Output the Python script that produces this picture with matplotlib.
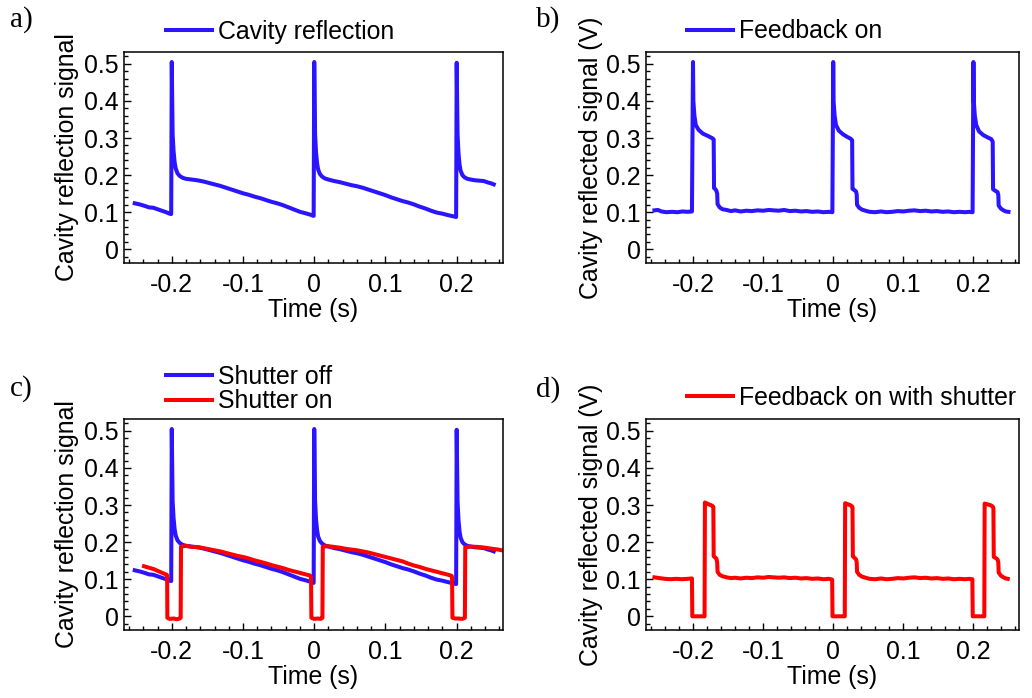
import numpy as np
import matplotlib
matplotlib.use("Agg")
import matplotlib.pyplot as plt
from matplotlib.ticker import MultipleLocator

plt.rcParams['font.family'] = ['Liberation Sans', 'DejaVu Sans']
plt.rcParams['axes.unicode_minus'] = False

BLUE = '#2b14ff'
RED = '#ff0000'

# cavity reflection, no feedback (panel a, and "Shutter off" in panel c)
t_refl = [-0.252, -0.245, -0.238, -0.232, -0.226, -0.220, -0.214, -0.208, -0.203, -0.2008,
          -0.200, -0.1995, -0.1988, -0.1975, -0.196, -0.1945, -0.192, -0.189, -0.185, -0.180,
          -0.172, -0.164, -0.156, -0.148, -0.140, -0.132, -0.124, -0.116, -0.108, -0.100,
          -0.092, -0.084, -0.076, -0.068, -0.060, -0.052, -0.044, -0.036, -0.028, -0.020,
          -0.012, -0.005, -0.0008,
          0.000, 0.0005, 0.0012, 0.0025, 0.004, 0.0055, 0.008, 0.011, 0.015, 0.020,
          0.028, 0.036, 0.044, 0.052, 0.060, 0.068, 0.076, 0.084, 0.092, 0.100,
          0.108, 0.116, 0.124, 0.132, 0.140, 0.148, 0.156, 0.164, 0.172, 0.180,
          0.188, 0.195, 0.1992,
          0.200, 0.2005, 0.2012, 0.2025, 0.204, 0.2055, 0.208, 0.211, 0.215, 0.220,
          0.226, 0.232, 0.238, 0.244, 0.248, 0.252]
v_refl = [0.124, 0.121, 0.117, 0.113, 0.112, 0.108, 0.104, 0.100, 0.096, 0.095,
          0.505, 0.420, 0.310, 0.265, 0.235, 0.218, 0.205, 0.198, 0.193, 0.190,
          0.188, 0.186, 0.183, 0.179, 0.175, 0.171, 0.166, 0.161, 0.156, 0.151,
          0.147, 0.142, 0.138, 0.133, 0.128, 0.124, 0.119, 0.113, 0.107, 0.101,
          0.097, 0.093, 0.090,
          0.505, 0.420, 0.310, 0.262, 0.232, 0.215, 0.203, 0.196, 0.191, 0.188,
          0.184, 0.181, 0.177, 0.173, 0.170, 0.166, 0.161, 0.156, 0.151, 0.146,
          0.140, 0.135, 0.130, 0.126, 0.121, 0.115, 0.110, 0.104, 0.099, 0.096,
          0.092, 0.089, 0.087,
          0.503, 0.420, 0.310, 0.260, 0.228, 0.212, 0.200, 0.194, 0.190, 0.188,
          0.186, 0.185, 0.184, 0.180, 0.178, 0.175]

# cavity reflection with shutter (panel c, red)
t_shut = [-0.239, -0.232, -0.225, -0.218, -0.212, -0.207, -0.2065,
          -0.2062, -0.203, -0.197, -0.193, -0.189, -0.1875,
          -0.187, -0.180, -0.172, -0.164, -0.156, -0.148, -0.140, -0.132, -0.124, -0.116,
          -0.108, -0.100, -0.092, -0.084, -0.076, -0.068, -0.060, -0.052, -0.044, -0.036,
          -0.028, -0.020, -0.012, -0.006, -0.0045,
          -0.004, 0.000, 0.005, 0.009, 0.0115,
          0.012, 0.020, 0.028, 0.036, 0.044, 0.052, 0.060, 0.068, 0.076, 0.084,
          0.092, 0.100, 0.108, 0.116, 0.124, 0.132, 0.140, 0.148, 0.156, 0.164,
          0.172, 0.180, 0.188, 0.193, 0.1935,
          0.194, 0.198, 0.203, 0.208, 0.2115,
          0.212, 0.220, 0.230, 0.240, 0.250, 0.258, 0.266]
v_shut = [0.135, 0.131, 0.127, 0.121, 0.116, 0.112, 0.110,
          -0.004, -0.007, -0.006, -0.008, -0.006, -0.004,
          0.188, 0.190, 0.187, 0.187, 0.184, 0.181, 0.178, 0.175, 0.171, 0.167,
          0.163, 0.160, 0.156, 0.151, 0.147, 0.143, 0.138, 0.134, 0.130, 0.125,
          0.121, 0.117, 0.113, 0.110, 0.106,
          -0.004, -0.007, -0.006, -0.007, -0.004,
          0.188, 0.189, 0.187, 0.185, 0.182, 0.180, 0.178, 0.175, 0.172, 0.168,
          0.164, 0.160, 0.156, 0.152, 0.148, 0.142, 0.137, 0.133, 0.128, 0.124,
          0.120, 0.116, 0.112, 0.109, 0.104,
          -0.004, -0.006, -0.006, -0.007, -0.004,
          0.186, 0.188, 0.187, 0.185, 0.182, 0.180, 0.177]

# reflected signal with feedback on (panel b)
t_fb = [-0.255, -0.250, -0.245, -0.238, -0.230, -0.222, -0.215, -0.208, -0.2015,
        -0.200, -0.1995, -0.198, -0.196, -0.192, -0.186, -0.178, -0.172, -0.1705,
        -0.170, -0.168, -0.1665, -0.1655, -0.165, -0.162, -0.158, -0.152, -0.146, -0.140,
        -0.132, -0.124, -0.116, -0.108, -0.100, -0.092, -0.085, -0.078, -0.070, -0.062,
        -0.054, -0.046, -0.038, -0.030, -0.022, -0.014, -0.006, -0.0012,
        0.000, 0.0005, 0.002, 0.004, 0.008, 0.014, 0.020, 0.025, 0.027,
        0.0275, 0.030, 0.0325, 0.0335, 0.034, 0.037, 0.041, 0.046, 0.052, 0.060,
        0.068, 0.076, 0.084, 0.092, 0.100, 0.108, 0.116, 0.124, 0.132, 0.140,
        0.148, 0.156, 0.164, 0.172, 0.180, 0.188, 0.194, 0.1988,
        0.200, 0.2005, 0.202, 0.204, 0.208, 0.214, 0.220, 0.2255, 0.2275,
        0.228, 0.231, 0.2345, 0.2355, 0.236, 0.239, 0.242, 0.246, 0.250]
v_fb = [0.105, 0.106, 0.102, 0.100, 0.101, 0.100, 0.102, 0.101, 0.102,
        0.505, 0.400, 0.360, 0.335, 0.322, 0.312, 0.305, 0.299, 0.296,
        0.165, 0.162, 0.157, 0.150, 0.122, 0.113, 0.108, 0.106, 0.103, 0.105,
        0.102, 0.104, 0.103, 0.105, 0.104, 0.106, 0.105, 0.104, 0.106, 0.103,
        0.104, 0.102, 0.103, 0.101, 0.102, 0.100, 0.101, 0.100,
        0.505, 0.400, 0.360, 0.335, 0.320, 0.310, 0.303, 0.298, 0.294,
        0.163, 0.160, 0.156, 0.148, 0.120, 0.112, 0.107, 0.104, 0.101, 0.100,
        0.102, 0.100, 0.101, 0.103, 0.102, 0.104, 0.105, 0.103, 0.104, 0.102,
        0.103, 0.101, 0.102, 0.100, 0.101, 0.100, 0.101, 0.100,
        0.505, 0.400, 0.360, 0.335, 0.318, 0.308, 0.302, 0.297, 0.290,
        0.162, 0.158, 0.154, 0.146, 0.118, 0.110, 0.106, 0.102, 0.101]

# reflected signal with feedback and shutter (panel d)
t_fbs = [-0.255, -0.248, -0.240, -0.232, -0.224, -0.216, -0.208, -0.2015,
         -0.201, -0.1835,
         -0.183, -0.179, -0.176, -0.1725, -0.171,
         -0.1705, -0.168, -0.1665, -0.1655, -0.165, -0.162, -0.158, -0.152, -0.146, -0.140,
         -0.132, -0.124, -0.116, -0.108, -0.100, -0.092, -0.085, -0.078, -0.070, -0.062,
         -0.054, -0.046, -0.038, -0.030, -0.022, -0.014, -0.006, -0.0015,
         -0.001, 0.0165,
         0.017, 0.021, 0.024, 0.0265, 0.0275,
         0.028, 0.030, 0.0325, 0.0335, 0.034, 0.037, 0.041, 0.046, 0.052, 0.060,
         0.068, 0.076, 0.084, 0.092, 0.100, 0.108, 0.116, 0.124, 0.132, 0.140,
         0.148, 0.156, 0.164, 0.172, 0.180, 0.188, 0.194, 0.1985,
         0.199, 0.2155,
         0.216, 0.220, 0.224, 0.2275, 0.2285,
         0.229, 0.232, 0.2345, 0.2355, 0.236, 0.239, 0.242, 0.246, 0.249]
v_fbs = [0.105, 0.103, 0.101, 0.100, 0.101, 0.100, 0.101, 0.102,
         0.000, 0.000,
         0.307, 0.303, 0.301, 0.298, 0.295,
         0.162, 0.158, 0.155, 0.145, 0.120, 0.112, 0.108, 0.105, 0.103, 0.104,
         0.102, 0.104, 0.103, 0.105, 0.104, 0.106, 0.105, 0.104, 0.105, 0.103,
         0.104, 0.102, 0.103, 0.101, 0.102, 0.100, 0.101, 0.099,
         0.000, 0.000,
         0.305, 0.302, 0.300, 0.297, 0.294,
         0.162, 0.158, 0.154, 0.146, 0.120, 0.112, 0.107, 0.104, 0.101, 0.100,
         0.102, 0.100, 0.101, 0.103, 0.102, 0.104, 0.105, 0.103, 0.104, 0.102,
         0.103, 0.101, 0.102, 0.100, 0.101, 0.100, 0.101, 0.100,
         0.000, 0.000,
         0.304, 0.302, 0.300, 0.296, 0.292,
         0.160, 0.157, 0.153, 0.145, 0.118, 0.110, 0.106, 0.102, 0.101]

x_ticks = [-0.2, -0.1, 0.0, 0.1, 0.2]
y_ticks = [0.0, 0.1, 0.2, 0.3, 0.4, 0.5]

FS = 17.9
LW = 2.9


def style_axis(ax, ylabel, label_x):
    ax.set_xlim(-0.267, 0.265)
    ax.set_ylim(-0.037, 0.532)
    ax.set_xticks(x_ticks)
    ax.set_xticklabels(['%g' % v for v in x_ticks])
    ax.set_yticks(y_ticks)
    ax.set_yticklabels(['%g' % v for v in y_ticks])
    ax.xaxis.set_minor_locator(MultipleLocator(0.02))
    ax.yaxis.set_minor_locator(MultipleLocator(0.02))
    ax.tick_params(which='both', direction='in', top=False, right=False,
                   labelsize=FS, width=1.0)
    ax.tick_params(which='major', length=5)
    ax.tick_params(which='minor', length=3)
    ax.tick_params(axis='x', pad=7)
    ax.tick_params(axis='y', pad=4)
    for s in ax.spines.values():
        s.set_linewidth(1.1)
    ax.set_xlabel('Time (s)', fontsize=FS, labelpad=1)
    ax.set_ylabel(ylabel, fontsize=FS)
    ax.yaxis.set_label_coords(label_x, 0.5)


fig = plt.figure(figsize=(10.32, 6.98), dpi=100)
ax_a = fig.add_axes([0.1202, 0.6232, 0.3672, 0.3023])
ax_b = fig.add_axes([0.6260, 0.6232, 0.3614, 0.3023])
ax_c = fig.add_axes([0.1202, 0.0974, 0.3672, 0.3023])
ax_d = fig.add_axes([0.6260, 0.0974, 0.3614, 0.3023])

ax_a.plot(t_refl, v_refl, color=BLUE, lw=LW, label='Cavity reflection')
ax_b.plot(t_fb, v_fb, color=BLUE, lw=LW, label='Feedback on')
ax_c.plot(t_refl, v_refl, color=BLUE, lw=LW, label='Shutter off')
ax_c.plot(t_shut, v_shut, color=RED, lw=LW, label='Shutter on')
ax_d.plot(t_fbs, v_fbs, color=RED, lw=LW, label='Feedback on with shutter')

style_axis(ax_a, 'Cavity reflection signal', -0.118)
style_axis(ax_b, 'Cavity reflected signal (V)', -0.115)
style_axis(ax_c, 'Cavity reflection signal', -0.118)
style_axis(ax_d, 'Cavity reflected signal (V)', -0.115)

leg_kw = dict(loc='center left', frameon=False, fontsize=FS, borderpad=0,
              borderaxespad=0, handlelength=1.85, handletextpad=0.25,
              labelspacing=0.03, bbox_transform=fig.transFigure)
ax_a.legend(bbox_to_anchor=(0.161, 0.954), **leg_kw)
ax_b.legend(bbox_to_anchor=(0.6657, 0.955), **leg_kw)
ax_c.legend(bbox_to_anchor=(0.161, 0.4427), **leg_kw)
ax_d.legend(bbox_to_anchor=(0.6657, 0.4298), **leg_kw)

for letter, x, y in [('a)', 0.0097, 0.972), ('b)', 0.519, 0.972),
                     ('c)', 0.0097, 0.443), ('d)', 0.519, 0.442)]:
    fig.text(x, y, letter, family='Liberation Serif', fontsize=21,
             ha='left', va='center')

fig.savefig('out.png', dpi=100)
